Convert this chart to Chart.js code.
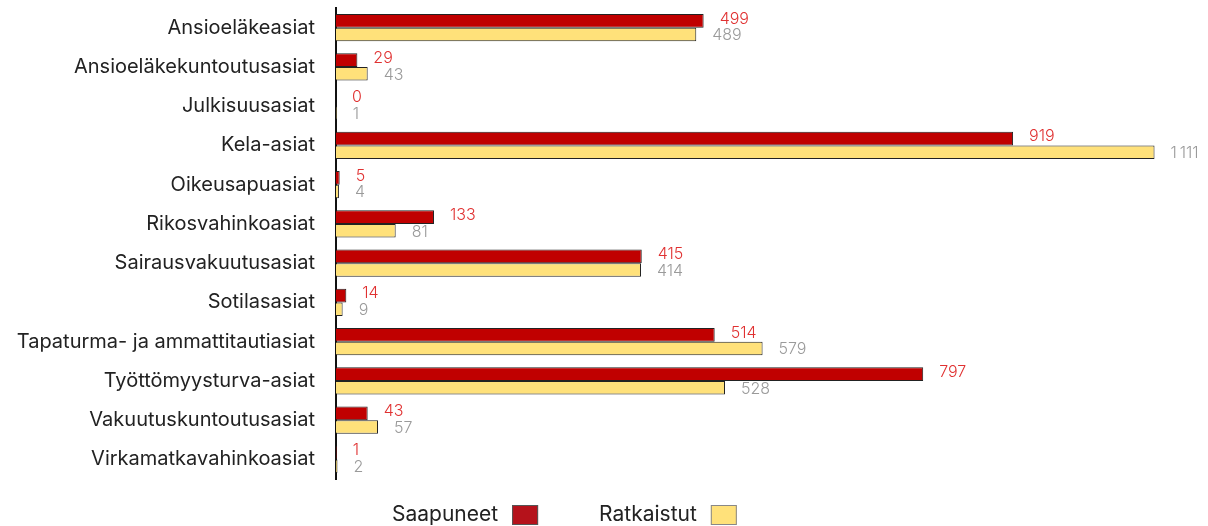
<!DOCTYPE html>
<html>
<head>
<meta charset="utf-8">
<script src="https://cdn.jsdelivr.net/npm/chart.js@4/dist/chart.umd.min.js"></script>
<style>
  html, body { margin: 0; padding: 0; background: #fff; }
  #wrap { width: 1208px; height: 526px; }
</style>
</head>
<body>
<div id="wrap"><canvas id="caseChart"></canvas></div>
<script>
// ===============================
// DATA
// ===============================
const categories = [
  "Ansioeläkeasiat", "Ansioeläkekuntoutusasiat", "Julkisuusasiat", "Kela-asiat",
  "Oikeusapuasiat", "Rikosvahinkoasiat", "Sairausvakuutusasiat", "Sotilasasiat",
  "Tapaturma- ja ammattitautiasiat", "Työttömyysturva-asiat", "Vakuutuskuntoutusasiat",
  "Virkamatkavahinkoasiat"
];
const saapuneet = [499, 29, 0, 919, 5, 133, 415, 14, 514, 797, 43, 1];
const ratkaistut = [489, 43, 1, 1111, 4, 81, 414, 9, 579, 528, 57, 2];
const seriesNames = ["Saapuneet", "Ratkaistut"];

const FONT = "Inter";
const RED = "#c00000";
const YELLOW = "#ffe17a";

// finnish thousands separator (narrow space)
function fmt(n) {
  return String(n).replace(/\B(?=(\d{3})+(?!\d))/g, "\u202f");
}

/* ===============================
   VALUE LABELS NEXT TO BARS
================================ */
const valueLabels = {
  id: "valueLabels",
  afterDatasetsDraw(chart) {
    const ctx = chart.ctx;
    ctx.save();
    ctx.font = "300 16px " + FONT;
    ctx.textBaseline = "middle";
    chart.data.datasets.forEach((ds, i) => {
      const meta = chart.getDatasetMeta(i);
      ctx.fillStyle = i === 0 ? "#e03131" : "#9a9a9a";
      meta.data.forEach((bar, j) => {
        const dy = i === 0 ? -2 : 1;
        ctx.fillText(fmt(ds.data[j]), bar.x + 16, bar.y + dy);
      });
    });
    ctx.restore();
  }
};

/* ===============================
   LEGEND: TEXT FIRST, THEN BOX
================================ */
const boxLegend = {
  id: "boxLegend",
  afterDraw(chart) {
    const ctx = chart.ctx;
    const items = [
      { text: seriesNames[0], fill: "#b5121b", stroke: "#555" },
      { text: seriesNames[1], fill: YELLOW, stroke: "#888" }
    ];
    ctx.save();
    ctx.font = "21px " + FONT;
    ctx.textBaseline = "middle";
    let x = 392;
    const y = 515;
    items.forEach(it => {
      const tw = ctx.measureText(it.text).width;
      ctx.fillStyle = "#222";
      ctx.fillText(it.text, x, y);
      const bx = x + tw + 14;
      ctx.fillStyle = it.fill;
      ctx.fillRect(bx, y - 10, 26, 20);
      ctx.strokeStyle = it.stroke;
      ctx.lineWidth = 1;
      ctx.strokeRect(bx + 0.5, y - 9.5, 25, 19);
      x = bx + 26 + 61;
    });
    ctx.restore();
  }
};

new Chart(document.getElementById("caseChart"), {
  type: "bar",
  data: {
    labels: categories,
    datasets: [{
      label: seriesNames[0],
      data: saapuneet,
      backgroundColor: RED,
      borderColor: "#222",
      borderWidth: 1,
      barPercentage: 1,
      categoryPercentage: 0.7
    }, {
      label: seriesNames[1],
      data: ratkaistut,
      backgroundColor: YELLOW,
      borderColor: "#222",
      borderWidth: 1,
      barPercentage: 1,
      categoryPercentage: 0.7
    }]
  },
  options: {
    indexAxis: "y",
    responsive: true,
    maintainAspectRatio: false,
    animation: false,
    layout: { padding: { top: 8, right: 10, left: 0, bottom: 47 } },
    plugins: {
      tooltip: { enabled: false },
      legend: { display: false }
    },
    scales: {
      x: {
        display: false,
        min: 0,
        max: 1170
      },
      y: {
        grid: { display: false },
        border: { display: true, color: "#111", width: 2 },
        ticks: {
          color: "#222",
          padding: 13,
          font: { family: FONT, size: 20 }
        },
        afterFit(scale) {
          scale.width = 336;
          scale.paddingTop = 0;
          scale.paddingBottom = 0;
        }
      }
    }
  },
  plugins: [valueLabels, boxLegend]
});
</script>
</body>
</html>
